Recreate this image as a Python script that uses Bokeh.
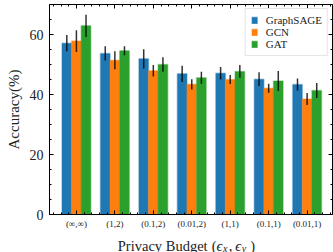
from bokeh.plotting import figure
from bokeh.models import FixedTicker, LinearAxis, Label
from bokeh.layouts import column
from bokeh.embed import file_html
from bokeh.resources import INLINE

categories = ["(∞,∞)", "(1,2)", "(0.1,2)", "(0.01,2)", "(1,1)", "(0.1,1)", "(0.01,1)"]
series_names = ["GraphSAGE", "GCN", "GAT"]
sage = [57.1, 53.7, 51.9, 46.9, 47.1, 45.1, 43.3]
sage_err = [2.7, 2.4, 3.2, 2.7, 2.1, 2.3, 2.0]
gcn = [57.8, 51.4, 47.9, 43.4, 45.0, 42.1, 38.5]
gcn_err = [3.6, 3.0, 1.9, 1.7, 1.5, 1.5, 2.0]
gat = [62.9, 54.6, 50.0, 45.6, 47.7, 44.5, 41.3]
gat_err = [3.7, 1.5, 2.4, 2.0, 2.1, 3.3, 2.5]
y_ticks = [0, 20, 40, 60]

colors = ["#1f77b4", "#ff7f0e", "#2ca02c"]
offsets = [-0.25, 0.0, 0.25]
BAR_W = 0.25
SERIF = "Liberation Serif"
TXT = "#222222"

X0, X1 = -0.7, 6.66
Y0, Y1 = 0, 70
LEFT, RIGHT, TOP, BOTTOM = 49, 1, 4, 15
W = 333
PH = TOP + 212 + BOTTOM
QH = 252 - PH

p = figure(width=W, height=PH, x_range=(X0, X1), y_range=(Y0, Y1),
           output_backend="svg", toolbar_location=None,
           min_border_left=LEFT, min_border_right=RIGHT, min_border_top=TOP,
           min_border_bottom=BOTTOM)
p.background_fill_color = "white"
p.border_fill_color = "white"
p.outline_line_color = "black"
p.xgrid.visible = False
p.ygrid.visible = False

n = len(categories)
xticker = FixedTicker(ticks=list(range(n)),
                      minor_ticks=[round(X0 + 0.1 + 0.2 * k, 2) for k in range(37)])
yticker = FixedTicker(ticks=y_ticks, minor_ticks=[5 * k for k in range(15)])

def style_axis(ax):
    ax.axis_line_color = "black"
    ax.major_tick_line_color = "black"
    ax.minor_tick_line_color = "black"
    ax.major_tick_in = 4
    ax.major_tick_out = 0
    ax.minor_tick_in = 2
    ax.minor_tick_out = 0

xa = p.xaxis[0]
xa.ticker = xticker
xa.major_label_overrides = {i: c for i, c in enumerate(categories)}
xa.major_label_text_font = SERIF
xa.major_label_text_font_size = "9px"
xa.major_label_text_color = TXT
xa.major_label_standoff = 4
style_axis(xa)

ya = p.yaxis[0]
ya.ticker = yticker
ya.major_label_text_font = SERIF
ya.major_label_text_font_size = "14px"
ya.major_label_text_color = TXT
ya.major_label_standoff = 6
ya.axis_label = "Accuracy(%)"
ya.axis_label_text_font = SERIF
ya.axis_label_text_font_size = "15px"
ya.axis_label_text_font_style = "normal"
ya.axis_label_text_color = TXT
ya.axis_label_standoff = 5
style_axis(ya)

# mirrored tick marks on the top and right edges (zero-size panels)
for loc, tk, fl in (("above", xticker, Y1), ("right", yticker, X1)):
    ax = LinearAxis(ticker=tk, major_label_text_font_size="0px",
                    major_label_standoff=0, axis_label_standoff=0,
                    fixed_location=fl)
    ax.major_label_overrides = {t: "" for t in tk.ticks}
    style_axis(ax)
    p.add_layout(ax, loc)

vals = [sage, gcn, gat]
errs = [sage_err, gcn_err, gat_err]
for j in range(3):
    xs = [i + offsets[j] for i in range(n)]
    p.vbar(x=xs, top=vals[j], width=BAR_W, fill_color=colors[j],
           line_color=colors[j], line_alpha=0.35, line_width=1.5,
           legend_label=series_names[j])
for j in range(3):
    xs = [i + offsets[j] for i in range(n)]
    lo = [v - e for v, e in zip(vals[j], errs[j])]
    hi = [v + e for v, e in zip(vals[j], errs[j])]
    p.segment(x0=xs, y0=lo, x1=xs, y1=hi, line_color="black",
              line_width=1.5, line_alpha=0.8)

lg = p.legend[0]
lg.location = "top_right"
lg.margin = 4
lg.padding = 5
lg.spacing = 0
lg.label_height = 11
lg.glyph_height = 8
lg.glyph_width = 7
lg.label_standoff = 8
lg.label_text_font = SERIF
lg.label_text_font_size = "11px"
lg.label_text_color = TXT
lg.border_line_color = "#cccccc"
lg.border_line_width = 1
lg.background_fill_alpha = 0.85

# x-axis title strip (separate canvas so nothing is clipped by the frame);
# its frame lines up with the main frame and shares the x range
q = figure(width=W, height=QH, x_range=p.x_range, y_range=(0, QH),
           x_axis_type=None, y_axis_type=None, output_backend="svg",
           toolbar_location=None, min_border_left=LEFT,
           min_border_right=RIGHT, min_border_top=0, min_border_bottom=0)
q.outline_line_color = None
q.background_fill_color = "white"
q.border_fill_color = "white"
q.xgrid.visible = False
q.ygrid.visible = False

ppx = (W - LEFT - RIGHT) / (X1 - X0)
def dx(page_x):
    return X0 + (page_x - LEFT) / ppx

base = 7.0
sub = 4.5
# (text, style, size, baseline, left edge in page px)
pieces = [
    ("Privacy Budget", "normal", "14.5px", base, 117.3),
    ("(", "normal", "14.5px", base, 211.2),
    ("ϵ", "italic", "14.5px", base, 216.0),
    ("x", "italic", "10px", sub, 222.5),
    (",", "normal", "14.5px", base, 228.3),
    ("ϵ", "italic", "14.5px", base, 234.8),
    ("y", "italic", "10px", sub, 241.3),
    (")", "normal", "14.5px", base, 249.8),
]
for txt, style, size, yy, left in pieces:
    q.add_layout(Label(x=dx(left), y=yy, text=txt, text_font=SERIF,
                       text_font_style=style, text_font_size=size,
                       text_color=TXT, text_baseline="alphabetic",
                       text_align="left"))

layout = column(p, q, spacing=0)
open("out.html", "w").write(file_html(layout, INLINE))
